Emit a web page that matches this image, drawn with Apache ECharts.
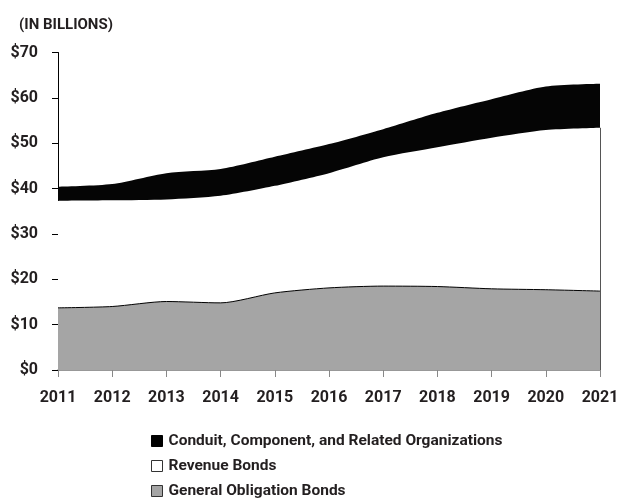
<!DOCTYPE html>
<html>
<head>
<meta charset="utf-8">
<script src="https://cdn.jsdelivr.net/npm/echarts@6/dist/echarts.min.js"></script>
<style>
  html, body { margin: 0; padding: 0; background: #fff; }
  #chart { width: 627px; height: 498px; }
</style>
</head>
<body>
<div id="chart"></div>
<script>
// Debt outstanding by type, in billions of dollars
const years = ['2011', '2012', '2013', '2014', '2015', '2016', '2017', '2018', '2019', '2020', '2021'];
const generalObligation = [13.7, 14.0, 15.1, 14.8, 17.0, 18.1, 18.5, 18.4, 17.9, 17.7, 17.4];
const revenueBonds = [23.6, 23.4, 22.5, 23.6, 23.6, 25.3, 28.4, 30.7, 33.3, 35.2, 36.0];
const conduit = [3.1, 3.6, 5.8, 5.9, 6.4, 6.4, 6.2, 7.6, 8.5, 9.6, 9.7];
const yTicks = [0, 10, 20, 30, 40, 50, 60, 70];

const FONT = "Roboto, 'Liberation Sans', sans-serif";
const TEXT = '#231f20';

// closing edge on the right side of the bond areas
const last = years.length - 1;
const bondsTop = generalObligation[last] + revenueBonds[last];

const chart = echarts.init(document.getElementById('chart'), null, { renderer: 'canvas' });

chart.setOption({
  animation: false,
  backgroundColor: '#ffffff',
  textStyle: { fontFamily: FONT, color: TEXT },
  title: {
    text: '(IN BILLIONS)',
    left: 14,
    top: 13,
    textStyle: { fontFamily: FONT, fontSize: 15, fontWeight: 'bold', color: TEXT }
  },
  grid: { left: 58, right: 27, top: 52.5, bottom: 128, containLabel: false },
  legend: {
    orient: 'vertical',
    left: 146,
    top: 428,
    height: 80,
    itemWidth: 11,
    itemHeight: 11,
    itemGap: 9,
    textStyle: { fontFamily: FONT, fontSize: 15.5, fontWeight: 'bold', color: TEXT, padding: [0, 0, 0, 1] },
    data: [
      { name: 'Conduit, Component, and Related Organizations', icon: 'rect',
        itemStyle: { color: '#000000', borderColor: '#000000', borderWidth: 1 } },
      { name: 'Revenue Bonds', icon: 'rect',
        itemStyle: { color: '#ffffff', borderColor: '#333333', borderWidth: 1 } },
      { name: 'General Obligation Bonds', icon: 'rect',
        itemStyle: { color: '#a5a5a5', borderColor: '#333333', borderWidth: 1 } }
    ]
  },
  xAxis: {
    type: 'category',
    data: years,
    boundaryGap: false,
    axisLine: { lineStyle: { color: '#777777', width: 1.5 } },
    axisTick: { alignWithLabel: true, length: 7, lineStyle: { color: '#888888', width: 1 } },
    axisLabel: { interval: 0, margin: 20, fontFamily: FONT, fontSize: 16, fontWeight: 'bold', color: TEXT }
  },
  yAxis: {
    type: 'value',
    min: yTicks[0],
    max: yTicks[yTicks.length - 1],
    interval: 10,
    splitLine: { show: false },
    axisLine: { show: true, lineStyle: { color: '#000000', width: 1 } },
    axisTick: { show: true, length: 6, lineStyle: { color: '#000000', width: 1 } },
    axisLabel: {
      margin: 20,
      fontFamily: FONT, fontSize: 16, fontWeight: 'bold', color: TEXT,
      formatter: v => '$' + v
    }
  },
  series: [
    {
      name: 'General Obligation Bonds',
      type: 'line',
      stack: 'debt',
      data: generalObligation,
      smooth: 0.25,
      symbol: 'none',
      lineStyle: { color: '#000000', width: 1 },
      itemStyle: { color: '#a5a5a5' },
      areaStyle: { color: '#a5a5a5', opacity: 1 },
      markLine: {
        silent: true,
        symbol: 'none',
        label: { show: false },
        lineStyle: { color: '#555555', width: 1, type: 'solid' },
        data: [[{ coord: [years[last], 0] }, { coord: [years[last], bondsTop] }]]
      },
      z: 3
    },
    {
      name: 'Revenue Bonds',
      type: 'line',
      stack: 'debt',
      data: revenueBonds,
      smooth: 0.25,
      symbol: 'none',
      lineStyle: { width: 0 },
      itemStyle: { color: '#ffffff' },
      areaStyle: { color: '#ffffff', opacity: 1 },
      z: 2
    },
    {
      name: 'Conduit, Component, and Related Organizations',
      type: 'line',
      stack: 'debt',
      data: conduit,
      smooth: 0.25,
      symbol: 'none',
      lineStyle: { width: 0 },
      itemStyle: { color: '#000000' },
      areaStyle: { color: '#050505', opacity: 1 },
      z: 2
    }
  ]
});
</script>
</body>
</html>
